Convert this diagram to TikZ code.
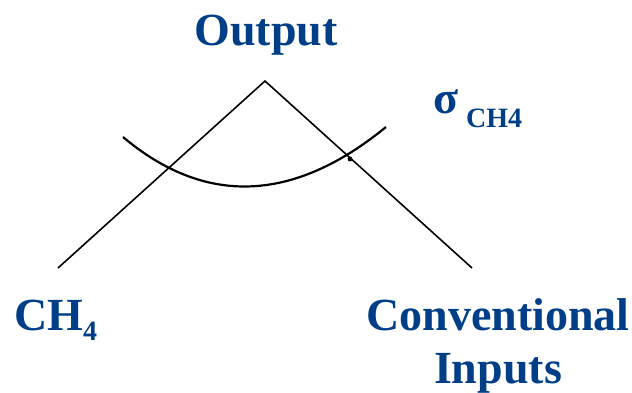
\documentclass[tikz,border=0pt]{standalone}
\usepackage{fontspec}
\setmainfont{Liberation Serif}
\definecolor{lblue}{HTML}{003F87}
\begin{document}
\begin{tikzpicture}[x=1pt,y=-1pt,
  lbl/.style={text=lblue,font=\bfseries\fontsize{46}{50}\selectfont,inner sep=0pt},
  iso/.style={line width=1.6pt,black},
  arcl/.style={line width=2.2pt,black}]
\useasboundingbox (0,0) rectangle (632,392);
\coordinate (apex) at (265,81);
\coordinate (l) at (58,268);
\coordinate (r) at (472,268);
\coordinate (a0) at (123,137);
\coordinate (a1) at (386,127);
\draw[iso] (l) -- (apex) -- (r);
\draw[arcl] (a0) .. controls (205,206) and (293,203) .. (a1);
\fill (350,159) circle (2.4);
\node[lbl,anchor=base] (out) at (266,45) {Output};
\node[lbl,anchor=base west] (ch4) at (14,330) {CH\raisebox{-0.22em}{\fontsize{28}{30}\selectfont 4}};
\node[lbl,anchor=base] (conv) at (498,330) {Conventional};
\node[lbl,anchor=base] (inp) at (498,383) {Inputs};
\node[lbl,anchor=base west] (sig) at (433,113) {σ\hspace{8pt}\raisebox{-14pt}{\fontsize{28}{30}\selectfont CH4}};
\end{tikzpicture}
\end{document}
